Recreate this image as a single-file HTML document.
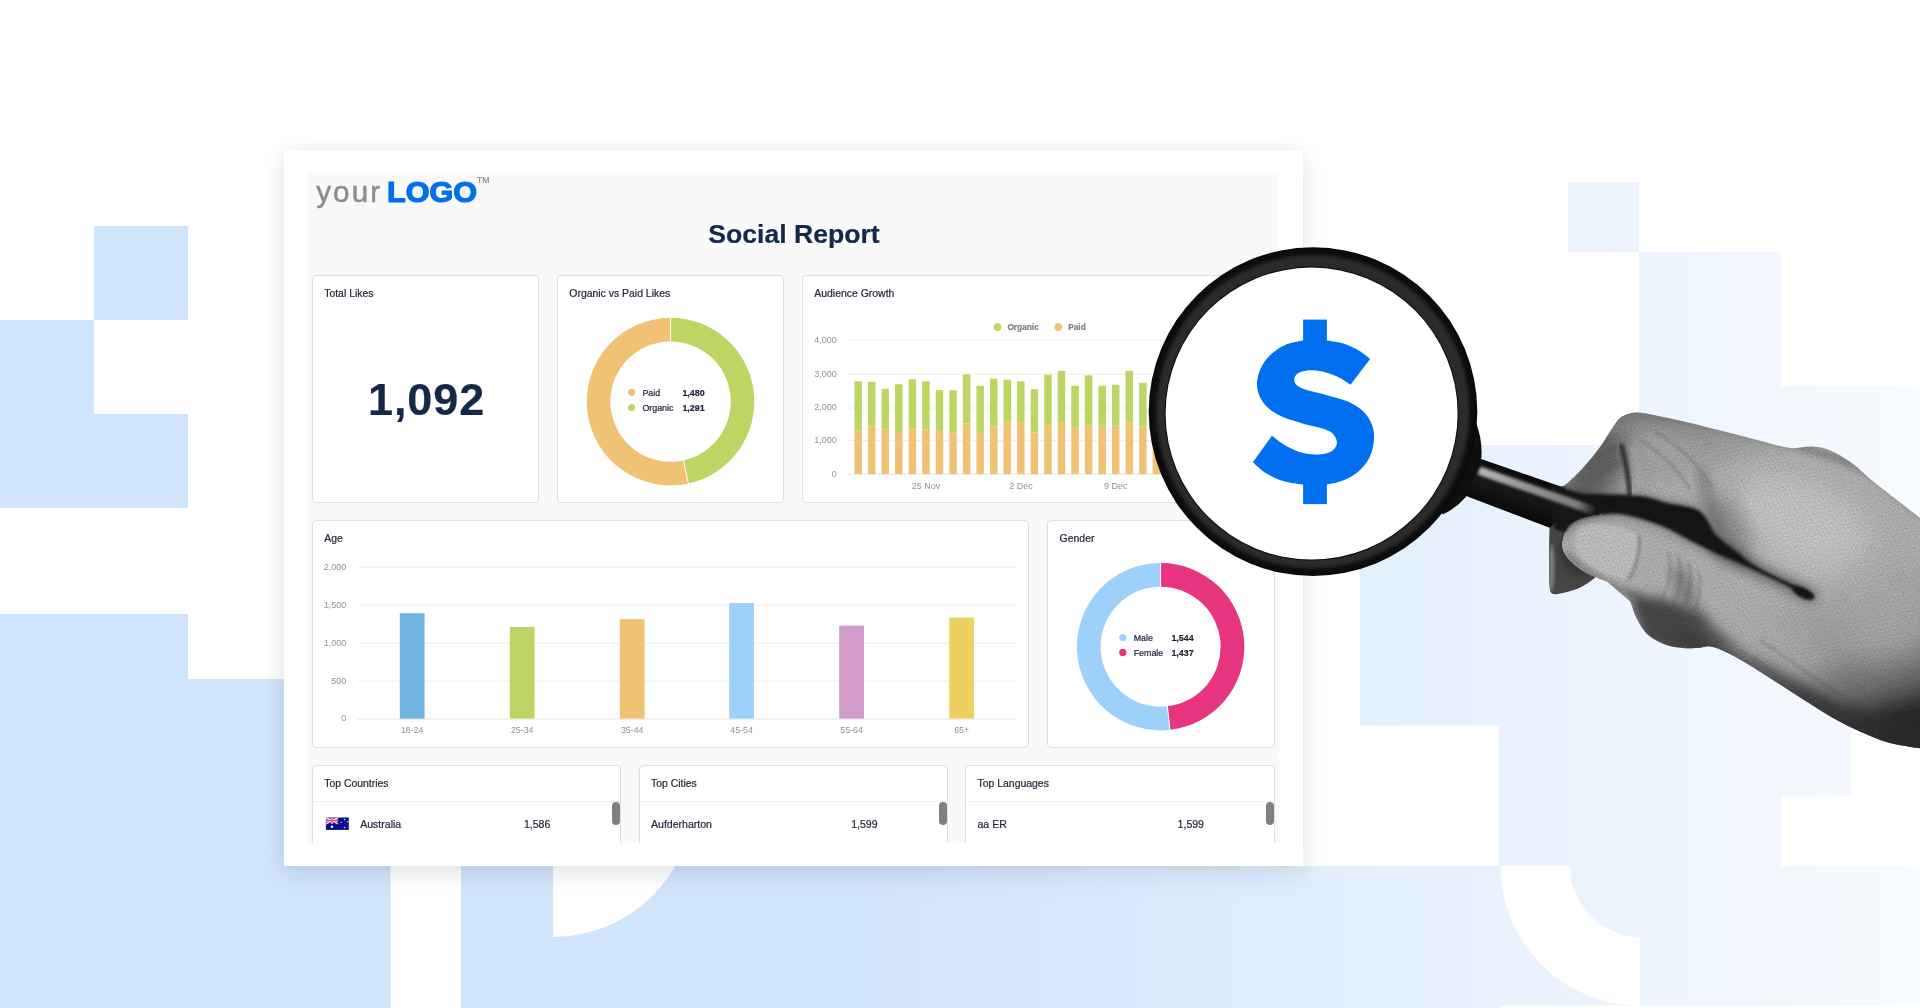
<!DOCTYPE html>
<html lang="en"><head><meta charset="utf-8"><title>Social Report</title>
<style>
html,body{margin:0;padding:0;background:#fff;}
body{width:1920px;height:1008px;position:relative;overflow:hidden;font-family:"Liberation Sans", sans-serif;}
svg{position:absolute;left:0;top:0;overflow:visible;}
.t{position:absolute;line-height:1;white-space:nowrap;font-family:"Liberation Sans", sans-serif;-webkit-text-stroke-width:.22px;}
.card{position:absolute;left:284px;top:150px;width:1019px;height:716px;background:#fff;
  box-shadow:0 7px 26px rgba(20,30,50,.115),0 0 10px rgba(20,30,50,.03);}
.panel{position:absolute;left:308px;top:173px;width:971px;height:670px;background:#f9f9f9;}
.clip{position:absolute;left:0;top:0;width:1920px;height:843px;overflow:hidden;will-change:transform;}
.wd{position:absolute;box-sizing:border-box;background:#fff;border:1px solid #dcdfe3;border-radius:4px;}
.hr{position:absolute;height:1px;background:#f0f1f3;}
.thumb{position:absolute;width:8px;height:23px;border-radius:4px;background:#808080;}
</style></head>
<body>
<svg width="1920" height="1008" viewBox="0 0 1920 1008">
<defs>
<linearGradient id="bgG" gradientUnits="userSpaceOnUse" x1="0" y1="0" x2="1920" y2="0">
<stop offset="0" stop-color="#d0e4fb"/><stop offset="0.44" stop-color="#d0e4fb"/>
<stop offset="0.71" stop-color="#e3effd"/><stop offset="0.82" stop-color="#ebf3fd"/>
<stop offset="0.93" stop-color="#f2f7fe"/><stop offset="1" stop-color="#f8fbff"/>
</linearGradient>
</defs>
<g fill="url(#bgG)">
<rect x="94" y="226" width="94" height="94"/>
<rect x="0" y="320" width="94" height="94"/>
<rect x="0" y="414" width="188" height="94"/>
<rect x="0" y="614" width="188" height="394"/>
<rect x="188" y="679" width="210" height="329"/>
<rect x="188" y="866" width="1732" height="142"/>
<rect x="1568" y="182" width="71" height="70"/>
<rect x="1639" y="252" width="142" height="134"/>
<rect x="1639" y="386" width="281" height="59"/>
<rect x="1360" y="445" width="560" height="421"/>
</g>
<g fill="#fff">
<rect x="390.5" y="860" width="70.5" height="148"/>
<path d="M553,780 L553,937 A141,141 0 0 0 694,796 L694,780 Z"/>
<rect x="1360" y="725.5" width="139" height="140.5"/>
<rect x="1781" y="795.5" width="139" height="70.5"/>
<rect x="1851" y="725.5" width="69" height="70"/>
<path d="M1500.5,866 A139.5,139.5 0 0 0 1640,1005.5 L1640,937 A71,71 0 0 1 1570,866 Z"/>
<rect x="1500" y="1005.5" width="420" height="3"/>
</g>
</svg>
<div class="card"></div>
<div class="panel"></div>
<div class="clip">
<span class="t" style="left:316.20px;top:177.24px;font-size:29.6px;color:#8c8c8c;font-weight:normal;letter-spacing:2.1px;-webkit-text-stroke:0.5px #8c8c8c;">your</span><span class="t" style="left:387.20px;top:177.72px;font-size:28.8px;color:#0070f0;font-weight:bold;-webkit-text-stroke:1.2px #0070f0;transform:scaleX(1.062);transform-origin:0 0;">LOGO</span><span class="t" style="left:477.00px;top:176.22px;font-size:8.6px;color:#8b8b8b;font-weight:normal;">TM</span><span class="t" style="left:594.00px;width:400px;text-align:center;top:221.48px;font-size:26.6px;color:#14284a;font-weight:bold;">Social Report</span><div class="wd" style="left:312px;top:275px;width:227px;height:228px"></div><div class="wd" style="left:557px;top:275px;width:227px;height:228px"></div><div class="wd" style="left:802px;top:275px;width:473px;height:228px"></div><div class="wd" style="left:312px;top:520px;width:717px;height:228px"></div><div class="wd" style="left:1047px;top:520px;width:228px;height:228px"></div><div class="wd" style="left:312px;top:765px;width:309px;height:120px"></div><div class="wd" style="left:639px;top:765px;width:309px;height:120px"></div><div class="wd" style="left:965px;top:765px;width:310px;height:120px"></div>
<span class="t" style="left:324.20px;top:288.75px;font-size:10.45px;color:#1e2738;font-weight:normal;">Total Likes</span><span class="t" style="left:569.30px;top:288.75px;font-size:10.45px;color:#1e2738;font-weight:normal;">Organic vs Paid Likes</span><span class="t" style="left:814.30px;top:288.75px;font-size:10.45px;color:#1e2738;font-weight:normal;">Audience Growth</span><span class="t" style="left:324.20px;top:534.15px;font-size:10.45px;color:#1e2738;font-weight:normal;">Age</span><span class="t" style="left:1059.60px;top:534.15px;font-size:10.45px;color:#1e2738;font-weight:normal;">Gender</span><span class="t" style="left:324.20px;top:779.45px;font-size:10.45px;color:#1e2738;font-weight:normal;">Top Countries</span><span class="t" style="left:651.00px;top:779.45px;font-size:10.45px;color:#1e2738;font-weight:normal;">Top Cities</span><span class="t" style="left:977.50px;top:779.45px;font-size:10.45px;color:#1e2738;font-weight:normal;">Top Languages</span>
<span class="t" style="left:226.60px;width:400px;text-align:center;top:376.81px;font-size:45px;color:#14284a;font-weight:bold;letter-spacing:0.9px;">1,092</span><div class="hr" style="left:313px;top:801px;width:307px"></div><div class="hr" style="left:640px;top:801px;width:307px"></div><div class="hr" style="left:966px;top:801px;width:308px"></div><span class="t" style="left:360.20px;top:818.97px;font-size:10.55px;color:#1e2738;font-weight:normal;">Australia</span><span class="t" style="left:150.30px;width:400px;text-align:right;top:818.97px;font-size:10.55px;color:#1e2738;font-weight:normal;">1,586</span><span class="t" style="left:651.00px;top:818.97px;font-size:10.55px;color:#1e2738;font-weight:normal;">Aufderharton</span><span class="t" style="left:477.60px;width:400px;text-align:right;top:818.97px;font-size:10.55px;color:#1e2738;font-weight:normal;">1,599</span><span class="t" style="left:977.50px;top:818.97px;font-size:10.55px;color:#1e2738;font-weight:normal;">aa ER</span><span class="t" style="left:804.00px;width:400px;text-align:right;top:818.97px;font-size:10.55px;color:#1e2738;font-weight:normal;">1,599</span><div class="thumb" style="left:612px;top:801.5px"></div><div class="thumb" style="left:939px;top:801.5px"></div><div class="thumb" style="left:1266px;top:801.5px"></div>
<svg width="1920" height="1008" viewBox="0 0 1920 1008" font-family='"Liberation Sans", sans-serif'>
<g transform="translate(325.9,817.5)"><rect width="22.9" height="12.4" fill="#0c0c8c"/><path d="M0,0L12.2,6.4M12.2,0L0,6.4" stroke="#fff" stroke-width="1.5"/><path d="M0,0L12.2,6.4M12.2,0L0,6.4" stroke="#ee3f7b" stroke-width=".6"/><path d="M6.1,0V6.4M0,3.2H12.2" stroke="#fff" stroke-width="2.3"/><path d="M6.1,0V6.4M0,3.2H12.2" stroke="#ee3f7b" stroke-width="1.3"/><circle cx="6" cy="9.2" r="1.25" fill="#fff"/><circle cx="18.6" cy="2" r=".75" fill="#fff"/><circle cx="15.3" cy="4.9" r=".6" fill="#fff"/><circle cx="21.9" cy="4.5" r=".65" fill="#fff"/><circle cx="18.6" cy="10" r=".75" fill="#fff"/></g>
<path d="M670.60,317.80 A83.8,83.8 0 0 1 688.42,483.48 L683.40,460.42 A60.2,60.2 0 0 0 670.60,341.40 Z" fill="#bdd663"/><path d="M688.42,483.48 A83.8,83.8 0 1 1 670.60,317.80 L670.60,341.40 A60.2,60.2 0 1 0 683.40,460.42 Z" fill="#f0c274"/><path d="M670.6,317.3V341.90000000000003" stroke="#fff" stroke-width="1"/><path d="M683.29,459.93L688.53,483.97" stroke="#fff" stroke-width="1"/><circle cx="631.6" cy="392.3" r="3.6" fill="#f0c274"/><circle cx="631.6" cy="407.5" r="3.6" fill="#bdd663"/>
<path d="M1160.60,563.00 A83.7,83.7 0 0 1 1170.02,729.87 L1167.35,706.32 A60,60 0 0 0 1160.60,586.70 Z" fill="#e73580"/><path d="M1170.02,729.87 A83.7,83.7 0 1 1 1160.60,563.00 L1160.60,586.70 A60,60 0 1 0 1167.35,706.32 Z" fill="#9dd1fb"/><path d="M1160.6,562.5V587.2" stroke="#fff" stroke-width="1"/><path d="M1167.30,705.82L1170.07,730.37" stroke="#fff" stroke-width="1"/><circle cx="1122.8" cy="637.5" r="3.6" fill="#9dd1fb"/><circle cx="1122.8" cy="652.4" r="3.6" fill="#e73580"/>
<path d="M847.5,340.2H1262" stroke="#eeeeee" stroke-width="1"/><path d="M847.5,374.2H1262" stroke="#eeeeee" stroke-width="1"/><path d="M847.5,408.0H1262" stroke="#eeeeee" stroke-width="1"/><path d="M847.5,440.6H1262" stroke="#eeeeee" stroke-width="1"/><path d="M847.5,474.1H1262" stroke="#e4e4e4" stroke-width="1"/><rect x="854.40" y="381.25" width="7.5" height="49.48" fill="#bdd663"/><rect x="854.40" y="430.73" width="7.5" height="43.37" fill="#f0c274"/><rect x="867.96" y="381.84" width="7.5" height="44.53" fill="#bdd663"/><rect x="867.96" y="426.38" width="7.5" height="47.72" fill="#f0c274"/><rect x="881.51" y="388.77" width="7.5" height="39.98" fill="#bdd663"/><rect x="881.51" y="428.75" width="7.5" height="45.35" fill="#f0c274"/><rect x="895.07" y="384.22" width="7.5" height="48.89" fill="#bdd663"/><rect x="895.07" y="433.10" width="7.5" height="41.00" fill="#f0c274"/><rect x="908.63" y="379.27" width="7.5" height="50.07" fill="#bdd663"/><rect x="908.63" y="429.34" width="7.5" height="44.76" fill="#f0c274"/><rect x="922.18" y="381.25" width="7.5" height="48.09" fill="#bdd663"/><rect x="922.18" y="429.34" width="7.5" height="44.76" fill="#f0c274"/><rect x="935.74" y="390.16" width="7.5" height="40.57" fill="#bdd663"/><rect x="935.74" y="430.73" width="7.5" height="43.37" fill="#f0c274"/><rect x="949.30" y="390.16" width="7.5" height="42.16" fill="#bdd663"/><rect x="949.30" y="432.31" width="7.5" height="41.79" fill="#f0c274"/><rect x="962.86" y="374.32" width="7.5" height="49.08" fill="#bdd663"/><rect x="962.86" y="423.41" width="7.5" height="50.69" fill="#f0c274"/><rect x="976.41" y="385.80" width="7.5" height="47.30" fill="#bdd663"/><rect x="976.41" y="433.10" width="7.5" height="41.00" fill="#f0c274"/><rect x="989.97" y="378.68" width="7.5" height="47.70" fill="#bdd663"/><rect x="989.97" y="426.38" width="7.5" height="47.72" fill="#f0c274"/><rect x="1003.53" y="379.67" width="7.5" height="42.55" fill="#bdd663"/><rect x="1003.53" y="422.22" width="7.5" height="51.88" fill="#f0c274"/><rect x="1017.08" y="381.25" width="7.5" height="40.97" fill="#bdd663"/><rect x="1017.08" y="422.22" width="7.5" height="51.88" fill="#f0c274"/><rect x="1030.64" y="389.17" width="7.5" height="43.15" fill="#bdd663"/><rect x="1030.64" y="432.31" width="7.5" height="41.79" fill="#f0c274"/><rect x="1044.20" y="374.72" width="7.5" height="49.48" fill="#bdd663"/><rect x="1044.20" y="424.20" width="7.5" height="49.90" fill="#f0c274"/><rect x="1057.76" y="370.96" width="7.5" height="51.26" fill="#bdd663"/><rect x="1057.76" y="422.22" width="7.5" height="51.88" fill="#f0c274"/><rect x="1071.31" y="385.80" width="7.5" height="41.96" fill="#bdd663"/><rect x="1071.31" y="427.76" width="7.5" height="46.34" fill="#f0c274"/><rect x="1084.87" y="375.31" width="7.5" height="49.88" fill="#bdd663"/><rect x="1084.87" y="425.19" width="7.5" height="48.91" fill="#f0c274"/><rect x="1098.43" y="385.80" width="7.5" height="39.98" fill="#bdd663"/><rect x="1098.43" y="425.78" width="7.5" height="48.32" fill="#f0c274"/><rect x="1111.98" y="384.81" width="7.5" height="40.38" fill="#bdd663"/><rect x="1111.98" y="425.19" width="7.5" height="48.91" fill="#f0c274"/><rect x="1125.54" y="370.96" width="7.5" height="51.26" fill="#bdd663"/><rect x="1125.54" y="422.22" width="7.5" height="51.88" fill="#f0c274"/><rect x="1139.10" y="382.83" width="7.5" height="43.54" fill="#bdd663"/><rect x="1139.10" y="426.38" width="7.5" height="47.72" fill="#f0c274"/><rect x="1152.65" y="377.29" width="7.5" height="46.51" fill="#bdd663"/><rect x="1152.65" y="423.80" width="7.5" height="50.30" fill="#f0c274"/>
<circle cx="997.5" cy="327.1" r="3.9" fill="#bdd663"/><circle cx="1058.3" cy="327.1" r="3.9" fill="#f0c274"/><path d="M357.5,567.3H1017" stroke="#eeeeee" stroke-width="1"/><path d="M357.5,605.2H1017" stroke="#eeeeee" stroke-width="1"/><path d="M357.5,643.3H1017" stroke="#eeeeee" stroke-width="1"/><path d="M357.5,681.1H1017" stroke="#eeeeee" stroke-width="1"/><path d="M357.5,719.0H1017" stroke="#e4e4e4" stroke-width="1"/><rect x="399.8" y="613.2" width="24.8" height="105.40" fill="#72b5e0"/><rect x="509.8" y="627.0" width="24.8" height="91.60" fill="#bdd663"/><rect x="619.8" y="619.1" width="24.8" height="99.50" fill="#f0c274"/><rect x="729.2" y="603.0" width="24.8" height="115.60" fill="#9dd1fb"/><rect x="839.2" y="625.6" width="24.8" height="93.00" fill="#d19cc9"/><rect x="949.2" y="617.6" width="24.8" height="101.00" fill="#edd060"/>
</svg>
<span class="t" style="left:436.80px;width:400px;text-align:right;top:335.68px;font-size:9px;color:#8f9296;font-weight:normal;-webkit-text-stroke-width:0;">4,000</span><span class="t" style="left:436.80px;width:400px;text-align:right;top:369.68px;font-size:9px;color:#8f9296;font-weight:normal;-webkit-text-stroke-width:0;">3,000</span><span class="t" style="left:436.80px;width:400px;text-align:right;top:403.48px;font-size:9px;color:#8f9296;font-weight:normal;-webkit-text-stroke-width:0;">2,000</span><span class="t" style="left:436.80px;width:400px;text-align:right;top:436.08px;font-size:9px;color:#8f9296;font-weight:normal;-webkit-text-stroke-width:0;">1,000</span><span class="t" style="left:436.80px;width:400px;text-align:right;top:469.58px;font-size:9px;color:#8f9296;font-weight:normal;-webkit-text-stroke-width:0;">0</span><span class="t" style="left:726.00px;width:400px;text-align:center;top:481.88px;font-size:9px;color:#8f9296;font-weight:normal;-webkit-text-stroke-width:0;">25 Nov</span><span class="t" style="left:821.00px;width:400px;text-align:center;top:481.88px;font-size:9px;color:#8f9296;font-weight:normal;-webkit-text-stroke-width:0;">2 Dec</span><span class="t" style="left:915.70px;width:400px;text-align:center;top:481.88px;font-size:9px;color:#8f9296;font-weight:normal;-webkit-text-stroke-width:0;">9 Dec</span><span class="t" style="left:1007.40px;top:323.07px;font-size:8.3px;color:#7d8289;font-weight:bold;">Organic</span><span class="t" style="left:1068.20px;top:323.07px;font-size:8.3px;color:#7d8289;font-weight:bold;">Paid</span><span class="t" style="left:-53.80px;width:400px;text-align:right;top:562.78px;font-size:9px;color:#8f9296;font-weight:normal;-webkit-text-stroke-width:0;">2,000</span><span class="t" style="left:-53.80px;width:400px;text-align:right;top:600.68px;font-size:9px;color:#8f9296;font-weight:normal;-webkit-text-stroke-width:0;">1,500</span><span class="t" style="left:-53.80px;width:400px;text-align:right;top:638.78px;font-size:9px;color:#8f9296;font-weight:normal;-webkit-text-stroke-width:0;">1,000</span><span class="t" style="left:-53.80px;width:400px;text-align:right;top:676.58px;font-size:9px;color:#8f9296;font-weight:normal;-webkit-text-stroke-width:0;">500</span><span class="t" style="left:-53.80px;width:400px;text-align:right;top:714.48px;font-size:9px;color:#8f9296;font-weight:normal;-webkit-text-stroke-width:0;">0</span><span class="t" style="left:212.20px;width:400px;text-align:center;top:725.75px;font-size:8.8px;color:#8f9296;font-weight:normal;-webkit-text-stroke-width:0;">18-24</span><span class="t" style="left:322.20px;width:400px;text-align:center;top:725.75px;font-size:8.8px;color:#8f9296;font-weight:normal;-webkit-text-stroke-width:0;">25-34</span><span class="t" style="left:432.20px;width:400px;text-align:center;top:725.75px;font-size:8.8px;color:#8f9296;font-weight:normal;-webkit-text-stroke-width:0;">35-44</span><span class="t" style="left:541.60px;width:400px;text-align:center;top:725.75px;font-size:8.8px;color:#8f9296;font-weight:normal;-webkit-text-stroke-width:0;">45-54</span><span class="t" style="left:651.60px;width:400px;text-align:center;top:725.75px;font-size:8.8px;color:#8f9296;font-weight:normal;-webkit-text-stroke-width:0;">55-64</span><span class="t" style="left:761.60px;width:400px;text-align:center;top:725.75px;font-size:8.8px;color:#8f9296;font-weight:normal;-webkit-text-stroke-width:0;">65+</span>
<span class="t" style="left:642.40px;top:388.97px;font-size:8.9px;color:#1e2738;font-weight:normal;">Paid</span><span class="t" style="left:642.40px;top:404.17px;font-size:8.9px;color:#1e2738;font-weight:normal;">Organic</span><span class="t" style="left:682.40px;top:388.97px;font-size:8.9px;color:#1d2637;font-weight:bold;">1,480</span><span class="t" style="left:682.40px;top:404.17px;font-size:8.9px;color:#1d2637;font-weight:bold;">1,291</span><span class="t" style="left:1133.70px;top:634.17px;font-size:8.9px;color:#1e2738;font-weight:normal;">Male</span><span class="t" style="left:1133.70px;top:649.07px;font-size:8.9px;color:#1e2738;font-weight:normal;">Female</span><span class="t" style="left:1171.40px;top:634.17px;font-size:8.9px;color:#1d2637;font-weight:bold;">1,544</span><span class="t" style="left:1171.40px;top:649.07px;font-size:8.9px;color:#1d2637;font-weight:bold;">1,437</span>
</div>
<svg width="1920" height="1008" viewBox="0 0 1920 1008">
<defs>
<filter id="b2" x="-20%" y="-20%" width="140%" height="140%"><feGaussianBlur stdDeviation="1.6"/></filter>
<filter id="b3" x="-20%" y="-20%" width="140%" height="140%"><feGaussianBlur stdDeviation="3"/></filter>
<filter id="b6" x="-30%" y="-30%" width="160%" height="160%"><feGaussianBlur stdDeviation="6"/></filter>
<filter id="b10" x="-40%" y="-40%" width="180%" height="180%"><feGaussianBlur stdDeviation="10"/></filter>
<filter id="b16" x="-50%" y="-50%" width="200%" height="200%"><feGaussianBlur stdDeviation="16"/></filter>
<filter id="grain" x="0" y="0" width="100%" height="100%">
  <feTurbulence type="fractalNoise" baseFrequency="0.85" numOctaves="2" seed="4" result="n"/>
  <feColorMatrix in="n" type="matrix" values="0 0 0 0 0  0 0 0 0 0  0 0 0 0 0  0.7 0.7 0 0 -0.5"/>
</filter>
<pattern id="skin" width="7" height="5" patternUnits="userSpaceOnUse" patternTransform="rotate(24)">
  <path d="M0,0 L7,5 M7,0 L0,5" stroke="#000" stroke-width=".55" opacity=".55"/>
</pattern>
<clipPath id="handClip"><path d="M1561.0,486.5 C1562.0,486.0 1563.3,486.6 1567.0,483.5 C1570.7,480.4 1577.4,474.2 1583.0,468.0 C1588.6,461.8 1595.5,453.3 1600.5,446.5 C1605.5,439.7 1609.4,432.0 1613.0,427.0 C1616.6,422.0 1618.1,418.9 1622.0,416.5 C1625.9,414.1 1630.5,412.6 1636.5,412.5 C1642.5,412.4 1649.1,414.2 1658.0,416.0 C1666.9,417.8 1678.7,420.3 1690.0,423.0 C1701.3,425.7 1714.2,429.0 1726.0,432.0 C1737.8,435.0 1750.3,438.3 1761.0,441.0 C1771.7,443.7 1781.7,447.1 1790.0,448.0 C1798.3,448.9 1804.5,446.2 1811.0,446.5 C1817.5,446.8 1822.3,447.3 1829.0,450.0 C1835.7,452.7 1843.8,457.4 1851.0,462.5 C1858.2,467.6 1864.3,474.2 1872.0,480.5 C1879.7,486.8 1888.2,493.1 1897.0,500.0 C1905.8,506.9 1920.3,518.3 1925.0,522.0 L1925.0,749.0 C1919.2,748.0 1900.7,745.8 1890.0,743.0 C1879.3,740.2 1870.5,736.2 1861.0,732.0 C1851.5,727.8 1842.5,723.3 1833.0,718.0 C1823.5,712.7 1813.5,706.0 1804.0,700.0 C1794.5,694.0 1784.8,687.7 1776.0,682.0 C1767.2,676.3 1758.8,670.8 1751.0,666.0 C1743.2,661.2 1735.7,656.8 1729.0,653.5 C1722.3,650.2 1716.3,647.4 1711.0,646.5 C1705.7,645.6 1701.7,647.8 1697.0,648.0 C1692.3,648.2 1688.3,648.6 1683.0,648.0 C1677.7,647.4 1671.0,646.8 1665.0,644.5 C1659.0,642.2 1651.8,638.4 1647.0,634.0 C1642.2,629.6 1639.2,623.1 1636.5,618.0 C1633.8,612.9 1632.8,608.2 1631.0,603.5 C1629.2,598.8 1626.4,591.8 1625.5,589.5 L1625.5,589.5 C1622.6,588.2 1614.5,584.8 1608.0,582.0 C1601.5,579.2 1592.8,576.5 1586.5,573.0 C1580.2,569.5 1574.3,564.7 1570.5,561.0 C1566.7,557.3 1564.9,554.0 1563.5,551.0 C1562.1,548.0 1562.5,544.3 1562.3,543.0 L1562.3,543.0 C1562.8,541.2 1563.7,535.5 1565.0,532.5 C1566.3,529.5 1568.0,527.0 1570.0,525.0 C1572.0,523.0 1574.2,521.5 1577.0,520.2 C1579.8,518.9 1583.0,517.9 1587.0,517.0 C1591.0,516.1 1598.7,515.0 1601.0,514.6 L1590,505 Z"/><path d="M1562.3,543.0 C1562.8,541.2 1563.7,535.5 1565.0,532.5 C1566.3,529.5 1568.0,527.0 1570.0,525.0 C1572.0,523.0 1574.2,521.5 1577.0,520.2 C1579.8,518.9 1583.0,517.9 1587.0,517.0 C1591.0,516.1 1595.5,515.1 1601.0,514.6 C1606.5,514.1 1612.9,513.2 1620.0,514.0 C1627.1,514.8 1635.6,517.1 1643.5,519.5 C1651.4,521.9 1659.4,524.7 1667.3,528.3 C1675.2,531.9 1683.0,536.8 1691.0,541.0 C1699.0,545.2 1707.0,549.5 1715.0,553.7 C1723.0,557.9 1730.8,562.3 1738.7,566.3 C1746.6,570.3 1754.6,573.8 1762.5,577.5 C1770.4,581.2 1779.0,585.0 1786.3,588.6 C1793.5,592.2 1802.7,597.3 1806.0,599.0 L1830,640 L1700,640 L1640,610 L1562.3,543.0 C1562.5,544.3 1562.1,548.0 1563.5,551.0 C1564.9,554.0 1566.7,557.3 1570.5,561.0 C1574.3,564.7 1580.2,569.5 1586.5,573.0 C1592.8,576.5 1601.5,579.2 1608.0,582.0 C1614.5,584.8 1622.6,588.2 1625.5,589.5 Z"/></clipPath>
<clipPath id="hhClip"><path d="M1561.0,486.5 C1562.0,486.0 1563.3,486.6 1567.0,483.5 C1570.7,480.4 1577.4,474.2 1583.0,468.0 C1588.6,461.8 1595.5,453.3 1600.5,446.5 C1605.5,439.7 1609.4,432.0 1613.0,427.0 C1616.6,422.0 1618.1,418.9 1622.0,416.5 C1625.9,414.1 1630.5,412.6 1636.5,412.5 C1642.5,412.4 1649.1,414.2 1658.0,416.0 C1666.9,417.8 1678.7,420.3 1690.0,423.0 C1701.3,425.7 1714.2,429.0 1726.0,432.0 C1737.8,435.0 1750.3,438.3 1761.0,441.0 C1771.7,443.7 1781.7,447.1 1790.0,448.0 C1798.3,448.9 1804.5,446.2 1811.0,446.5 C1817.5,446.8 1822.3,447.3 1829.0,450.0 C1835.7,452.7 1843.8,457.4 1851.0,462.5 C1858.2,467.6 1864.3,474.2 1872.0,480.5 C1879.7,486.8 1888.2,493.1 1897.0,500.0 C1905.8,506.9 1920.3,518.3 1925.0,522.0 L1925.0,749.0 C1919.2,748.0 1900.7,745.8 1890.0,743.0 C1879.3,740.2 1870.5,736.2 1861.0,732.0 C1851.5,727.8 1842.5,723.3 1833.0,718.0 C1823.5,712.7 1813.5,706.0 1804.0,700.0 C1794.5,694.0 1784.8,687.7 1776.0,682.0 C1767.2,676.3 1758.8,670.8 1751.0,666.0 C1743.2,661.2 1735.7,656.8 1729.0,653.5 C1722.3,650.2 1716.3,647.4 1711.0,646.5 C1705.7,645.6 1701.7,647.8 1697.0,648.0 C1692.3,648.2 1688.3,648.6 1683.0,648.0 C1677.7,647.4 1671.0,646.8 1665.0,644.5 C1659.0,642.2 1651.8,638.4 1647.0,634.0 C1642.2,629.6 1639.2,623.1 1636.5,618.0 C1633.8,612.9 1632.8,608.2 1631.0,603.5 C1629.2,598.8 1626.4,591.8 1625.5,589.5 L1625.5,589.5 C1622.6,588.2 1614.5,584.8 1608.0,582.0 C1601.5,579.2 1592.8,576.5 1586.5,573.0 C1580.2,569.5 1574.3,564.7 1570.5,561.0 C1566.7,557.3 1564.9,554.0 1563.5,551.0 C1562.1,548.0 1562.5,544.3 1562.3,543.0 L1562.3,543.0 C1562.8,541.2 1563.7,535.5 1565.0,532.5 C1566.3,529.5 1568.0,527.0 1570.0,525.0 C1572.0,523.0 1574.2,521.5 1577.0,520.2 C1579.8,518.9 1583.0,517.9 1587.0,517.0 C1591.0,516.1 1598.7,515.0 1601.0,514.6 L1590,505 Z"/><path d="M1562.3,543.0 C1562.8,541.2 1563.7,535.5 1565.0,532.5 C1566.3,529.5 1568.0,527.0 1570.0,525.0 C1572.0,523.0 1574.2,521.5 1577.0,520.2 C1579.8,518.9 1583.0,517.9 1587.0,517.0 C1591.0,516.1 1595.5,515.1 1601.0,514.6 C1606.5,514.1 1612.9,513.2 1620.0,514.0 C1627.1,514.8 1635.6,517.1 1643.5,519.5 C1651.4,521.9 1659.4,524.7 1667.3,528.3 C1675.2,531.9 1683.0,536.8 1691.0,541.0 C1699.0,545.2 1707.0,549.5 1715.0,553.7 C1723.0,557.9 1730.8,562.3 1738.7,566.3 C1746.6,570.3 1754.6,573.8 1762.5,577.5 C1770.4,581.2 1779.0,585.0 1786.3,588.6 C1793.5,592.2 1802.7,597.3 1806.0,599.0 L1830,640 L1700,640 L1640,610 L1562.3,543.0 C1562.5,544.3 1562.1,548.0 1563.5,551.0 C1564.9,554.0 1566.7,557.3 1570.5,561.0 C1574.3,564.7 1580.2,569.5 1586.5,573.0 C1592.8,576.5 1601.5,579.2 1608.0,582.0 C1614.5,584.8 1622.6,588.2 1625.5,589.5 Z"/><path d="M1468,454.4 L1600,500.2 L1600,547 L1453,491 Z"/></clipPath>
<clipPath id="baseClip"><path d="M1561.0,486.5 C1562.0,486.0 1563.3,486.6 1567.0,483.5 C1570.7,480.4 1577.4,474.2 1583.0,468.0 C1588.6,461.8 1595.5,453.3 1600.5,446.5 C1605.5,439.7 1609.4,432.0 1613.0,427.0 C1616.6,422.0 1618.1,418.9 1622.0,416.5 C1625.9,414.1 1630.5,412.6 1636.5,412.5 C1642.5,412.4 1649.1,414.2 1658.0,416.0 C1666.9,417.8 1678.7,420.3 1690.0,423.0 C1701.3,425.7 1714.2,429.0 1726.0,432.0 C1737.8,435.0 1750.3,438.3 1761.0,441.0 C1771.7,443.7 1781.7,447.1 1790.0,448.0 C1798.3,448.9 1804.5,446.2 1811.0,446.5 C1817.5,446.8 1822.3,447.3 1829.0,450.0 C1835.7,452.7 1843.8,457.4 1851.0,462.5 C1858.2,467.6 1864.3,474.2 1872.0,480.5 C1879.7,486.8 1888.2,493.1 1897.0,500.0 C1905.8,506.9 1920.3,518.3 1925.0,522.0 L1925.0,749.0 C1919.2,748.0 1900.7,745.8 1890.0,743.0 C1879.3,740.2 1870.5,736.2 1861.0,732.0 C1851.5,727.8 1842.5,723.3 1833.0,718.0 C1823.5,712.7 1813.5,706.0 1804.0,700.0 C1794.5,694.0 1784.8,687.7 1776.0,682.0 C1767.2,676.3 1758.8,670.8 1751.0,666.0 C1743.2,661.2 1735.7,656.8 1729.0,653.5 C1722.3,650.2 1716.3,647.4 1711.0,646.5 C1705.7,645.6 1701.7,647.8 1697.0,648.0 C1692.3,648.2 1688.3,648.6 1683.0,648.0 C1677.7,647.4 1671.0,646.8 1665.0,644.5 C1659.0,642.2 1651.8,638.4 1647.0,634.0 C1642.2,629.6 1639.2,623.1 1636.5,618.0 C1633.8,612.9 1632.8,608.2 1631.0,603.5 C1629.2,598.8 1626.4,591.8 1625.5,589.5 L1625.5,589.5 C1622.6,588.2 1614.5,584.8 1608.0,582.0 C1601.5,579.2 1592.8,576.5 1586.5,573.0 C1580.2,569.5 1574.3,564.7 1570.5,561.0 C1566.7,557.3 1564.9,554.0 1563.5,551.0 C1562.1,548.0 1562.5,544.3 1562.3,543.0 L1562.3,543.0 C1562.8,541.2 1563.7,535.5 1565.0,532.5 C1566.3,529.5 1568.0,527.0 1570.0,525.0 C1572.0,523.0 1574.2,521.5 1577.0,520.2 C1579.8,518.9 1583.0,517.9 1587.0,517.0 C1591.0,516.1 1598.7,515.0 1601.0,514.6 L1590,505 Z"/></clipPath>
<clipPath id="thumbClip"><path d="M1562.3,543.0 C1562.8,541.2 1563.7,535.5 1565.0,532.5 C1566.3,529.5 1568.0,527.0 1570.0,525.0 C1572.0,523.0 1574.2,521.5 1577.0,520.2 C1579.8,518.9 1583.0,517.9 1587.0,517.0 C1591.0,516.1 1595.5,515.1 1601.0,514.6 C1606.5,514.1 1612.9,513.2 1620.0,514.0 C1627.1,514.8 1635.6,517.1 1643.5,519.5 C1651.4,521.9 1659.4,524.7 1667.3,528.3 C1675.2,531.9 1683.0,536.8 1691.0,541.0 C1699.0,545.2 1707.0,549.5 1715.0,553.7 C1723.0,557.9 1730.8,562.3 1738.7,566.3 C1746.6,570.3 1754.6,573.8 1762.5,577.5 C1770.4,581.2 1779.0,585.0 1786.3,588.6 C1793.5,592.2 1802.7,597.3 1806.0,599.0 L1830,640 L1700,640 L1640,610 L1562.3,543.0 C1562.5,544.3 1562.1,548.0 1563.5,551.0 C1564.9,554.0 1566.7,557.3 1570.5,561.0 C1574.3,564.7 1580.2,569.5 1586.5,573.0 C1592.8,576.5 1601.5,579.2 1608.0,582.0 C1614.5,584.8 1622.6,588.2 1625.5,589.5 Z"/></clipPath>
<clipPath id="ftipClip"><path d="M1549.5,528.0 C1549.4,533.3 1549.0,550.5 1549.0,560.0 C1549.0,569.5 1549.0,579.4 1549.5,585.0 C1550.0,590.6 1550.1,592.1 1552.0,593.5 C1553.9,594.9 1556.5,594.2 1561.0,593.3 C1565.5,592.4 1573.5,590.5 1579.0,588.0 C1584.5,585.5 1590.2,581.5 1594.0,578.5 C1597.8,575.5 1600.7,571.4 1602.0,570.0 L1610,540 L1560,518 Z"/></clipPath>
<linearGradient id="handG" gradientUnits="userSpaceOnUse" x1="1700" y1="415" x2="1795" y2="745">
 <stop offset="0" stop-color="#909090"/><stop offset="0.18" stop-color="#b6b6b6"/>
 <stop offset="0.55" stop-color="#b8b8b8"/><stop offset="0.78" stop-color="#a0a0a0"/>
 <stop offset="0.91" stop-color="#6e6e6e"/><stop offset="1" stop-color="#303030"/>
</linearGradient>
<linearGradient id="handleG" gradientUnits="userSpaceOnUse" x1="1520" y1="472.5" x2="1504.6" y2="514.8">
 <stop offset="0" stop-color="#0a0a0a"/><stop offset="0.5" stop-color="#171717"/><stop offset="1" stop-color="#060606"/>
</linearGradient>
<linearGradient id="streakG" gradientUnits="userSpaceOnUse" x1="1479" y1="470" x2="1596" y2="511">
 <stop offset="0" stop-color="#b4b4b4"/><stop offset="0.45" stop-color="#929292"/><stop offset="0.85" stop-color="#7c7c7c"/><stop offset="1" stop-color="#7c7c7c" stop-opacity="0"/>
</linearGradient>
<radialGradient id="ringG" gradientUnits="userSpaceOnUse" cx="1313" cy="411.6" r="164.3">
 <stop offset="0.86" stop-color="#272727"/><stop offset="0.93" stop-color="#2c2c2c"/>
 <stop offset="0.95" stop-color="#202020"/><stop offset="0.962" stop-color="#101010"/><stop offset="1" stop-color="#080808"/>
</radialGradient>
</defs>

<!-- handle -->
<path d="M1468,454.4 L1600,500.2 L1600,547 L1453,491 Z" fill="url(#handleG)"/>
<!-- index finger tip below handle -->
<path d="M1549.5,528.0 C1549.4,533.3 1549.0,550.5 1549.0,560.0 C1549.0,569.5 1549.0,579.4 1549.5,585.0 C1550.0,590.6 1550.1,592.1 1552.0,593.5 C1553.9,594.9 1556.5,594.2 1561.0,593.3 C1565.5,592.4 1573.5,590.5 1579.0,588.0 C1584.5,585.5 1590.2,581.5 1594.0,578.5 C1597.8,575.5 1600.7,571.4 1602.0,570.0 L1610,540 L1560,518 Z" fill="#464646"/>
<g clip-path="url(#ftipClip)">
  <ellipse cx="1582" cy="552" rx="22" ry="24" fill="#303030" filter="url(#b6)"/>
  <ellipse cx="1551.5" cy="568" rx="3" ry="24" fill="#7c7c7c" filter="url(#b2)"/>
</g>

<!-- hand -->
<path d="M1561.0,486.5 C1562.0,486.0 1563.3,486.6 1567.0,483.5 C1570.7,480.4 1577.4,474.2 1583.0,468.0 C1588.6,461.8 1595.5,453.3 1600.5,446.5 C1605.5,439.7 1609.4,432.0 1613.0,427.0 C1616.6,422.0 1618.1,418.9 1622.0,416.5 C1625.9,414.1 1630.5,412.6 1636.5,412.5 C1642.5,412.4 1649.1,414.2 1658.0,416.0 C1666.9,417.8 1678.7,420.3 1690.0,423.0 C1701.3,425.7 1714.2,429.0 1726.0,432.0 C1737.8,435.0 1750.3,438.3 1761.0,441.0 C1771.7,443.7 1781.7,447.1 1790.0,448.0 C1798.3,448.9 1804.5,446.2 1811.0,446.5 C1817.5,446.8 1822.3,447.3 1829.0,450.0 C1835.7,452.7 1843.8,457.4 1851.0,462.5 C1858.2,467.6 1864.3,474.2 1872.0,480.5 C1879.7,486.8 1888.2,493.1 1897.0,500.0 C1905.8,506.9 1920.3,518.3 1925.0,522.0 L1925.0,749.0 C1919.2,748.0 1900.7,745.8 1890.0,743.0 C1879.3,740.2 1870.5,736.2 1861.0,732.0 C1851.5,727.8 1842.5,723.3 1833.0,718.0 C1823.5,712.7 1813.5,706.0 1804.0,700.0 C1794.5,694.0 1784.8,687.7 1776.0,682.0 C1767.2,676.3 1758.8,670.8 1751.0,666.0 C1743.2,661.2 1735.7,656.8 1729.0,653.5 C1722.3,650.2 1716.3,647.4 1711.0,646.5 C1705.7,645.6 1701.7,647.8 1697.0,648.0 C1692.3,648.2 1688.3,648.6 1683.0,648.0 C1677.7,647.4 1671.0,646.8 1665.0,644.5 C1659.0,642.2 1651.8,638.4 1647.0,634.0 C1642.2,629.6 1639.2,623.1 1636.5,618.0 C1633.8,612.9 1632.8,608.2 1631.0,603.5 C1629.2,598.8 1626.4,591.8 1625.5,589.5 L1625.5,589.5 C1622.6,588.2 1614.5,584.8 1608.0,582.0 C1601.5,579.2 1592.8,576.5 1586.5,573.0 C1580.2,569.5 1574.3,564.7 1570.5,561.0 C1566.7,557.3 1564.9,554.0 1563.5,551.0 C1562.1,548.0 1562.5,544.3 1562.3,543.0 L1562.3,543.0 C1562.8,541.2 1563.7,535.5 1565.0,532.5 C1566.3,529.5 1568.0,527.0 1570.0,525.0 C1572.0,523.0 1574.2,521.5 1577.0,520.2 C1579.8,518.9 1583.0,517.9 1587.0,517.0 C1591.0,516.1 1598.7,515.0 1601.0,514.6 L1590,505 Z" fill="url(#handG)"/>
<path d="M1562.3,543.0 C1562.8,541.2 1563.7,535.5 1565.0,532.5 C1566.3,529.5 1568.0,527.0 1570.0,525.0 C1572.0,523.0 1574.2,521.5 1577.0,520.2 C1579.8,518.9 1583.0,517.9 1587.0,517.0 C1591.0,516.1 1595.5,515.1 1601.0,514.6 C1606.5,514.1 1612.9,513.2 1620.0,514.0 C1627.1,514.8 1635.6,517.1 1643.5,519.5 C1651.4,521.9 1659.4,524.7 1667.3,528.3 C1675.2,531.9 1683.0,536.8 1691.0,541.0 C1699.0,545.2 1707.0,549.5 1715.0,553.7 C1723.0,557.9 1730.8,562.3 1738.7,566.3 C1746.6,570.3 1754.6,573.8 1762.5,577.5 C1770.4,581.2 1779.0,585.0 1786.3,588.6 C1793.5,592.2 1802.7,597.3 1806.0,599.0 L1830,640 L1700,640 L1640,610 L1562.3,543.0 C1562.5,544.3 1562.1,548.0 1563.5,551.0 C1564.9,554.0 1566.7,557.3 1570.5,561.0 C1574.3,564.7 1580.2,569.5 1586.5,573.0 C1592.8,576.5 1601.5,579.2 1608.0,582.0 C1614.5,584.8 1622.6,588.2 1625.5,589.5 Z" fill="url(#handG)"/>
<g clip-path="url(#handClip)">
  <ellipse cx="1805" cy="525" rx="78" ry="42" fill="#d0d0d0" opacity=".9" filter="url(#b16)" transform="rotate(28 1805 525)"/>
  <ellipse cx="1885" cy="600" rx="46" ry="56" fill="#b4b4b4" opacity=".7" filter="url(#b16)"/>
  <ellipse cx="1596" cy="470" rx="22" ry="44" fill="#606060" opacity=".95" filter="url(#b10)" transform="rotate(38 1596 470)"/>
  <ellipse cx="1662" cy="450" rx="34" ry="18" fill="#b0b0b0" opacity=".85" filter="url(#b10)" transform="rotate(15 1662 450)"/>
  <path d="M1613,424 C1640,405 1700,420 1790,444 S1880,480 1925,517" fill="none" stroke="#7a7a7a" stroke-width="7" filter="url(#b3)" opacity=".8"/>
  <path d="M1621,444 C1626,462 1629,482 1630,497" fill="none" stroke="#2c2c2c" stroke-width="5" filter="url(#b2)" opacity=".85"/>
  <path d="M1632,446 C1638,464 1640,480 1641,496" fill="none" stroke="#b4b4b4" stroke-width="7" filter="url(#b3)" opacity=".7"/>
  <path d="M1700,470 C1705,490 1712,510 1722,535" fill="none" stroke="#6a6a6a" stroke-width="8" filter="url(#b6)" opacity=".7"/>
  <ellipse cx="1728" cy="528" rx="16" ry="34" fill="#6a6a6a" opacity=".55" filter="url(#b10)" transform="rotate(-28 1728 528)"/>
  <path d="M1640,644 L1700,654 L1760,686 L1830,726 L1925,754 L1925,730 L1840,704 L1770,664 L1700,632 Z" fill="#363636" filter="url(#b6)" opacity=".8"/>
  <path d="M1628,594 L1644,642 L1700,654 L1740,650 L1700,610 L1660,598 Z" fill="#404040" filter="url(#b6)" opacity=".92"/>
  <ellipse cx="1925" cy="735" rx="40" ry="22" fill="#2c2c2c" filter="url(#b10)" opacity=".85"/>
  <!-- thumb shading -->
  <ellipse cx="1650" cy="556" rx="60" ry="15" fill="#b8b8b8" opacity=".85" filter="url(#b10)" transform="rotate(20 1650 556)"/>
  <ellipse cx="1765" cy="636" rx="62" ry="24" fill="#b8b8b8" opacity=".75" filter="url(#b16)" transform="rotate(30 1765 636)"/>
  <path d="M1578,527 C1595,520 1620,524 1638,536 C1640,552 1634,570 1627,579 C1610,578 1590,568 1578,556 C1574,546 1574,534 1578,527 Z" fill="#c8c8c8" filter="url(#b2)" opacity=".95"/>
  <path d="M1639,536 C1641,552 1635,570 1628,580" fill="none" stroke="#858585" stroke-width="2.5" filter="url(#b2)" opacity=".9"/>
  <ellipse cx="1684" cy="588" rx="9" ry="24" fill="#787878" filter="url(#b6)" opacity=".8" transform="rotate(-22 1684 588)"/>
  <path d="M1566,553 C1580,572 1610,587 1640,597" fill="none" stroke="#5c5c5c" stroke-width="5" filter="url(#b3)" opacity=".7"/>
  <!-- dark band (handle in shadow) -->
  <path d="M1561.0,486.5 C1564.2,487.6 1571.5,491.7 1580.0,493.0 C1588.5,494.3 1601.1,493.9 1611.7,494.5 C1622.3,495.1 1634.2,495.1 1643.5,496.5 C1652.8,497.9 1659.4,501.1 1667.3,503.0 C1675.2,504.9 1685.2,505.9 1691.0,507.6 C1696.8,509.4 1698.8,510.6 1702.0,513.5 C1705.2,516.4 1707.7,521.4 1710.0,525.0 C1712.3,528.6 1711.2,530.2 1716.0,535.0 C1720.8,539.8 1732.3,548.4 1738.7,553.5 C1745.1,558.6 1748.0,561.4 1754.6,565.5 C1761.2,569.6 1770.5,574.2 1778.4,578.0 C1786.3,581.8 1796.3,585.8 1802.2,588.5 C1808.1,591.2 1812.0,593.5 1814.0,594.5 L1814.0,599.0 C1812.7,598.7 1810.6,599.2 1806.0,597.0 C1801.4,594.8 1793.5,589.3 1786.3,585.5 C1779.0,581.7 1770.4,577.8 1762.5,574.0 C1754.6,570.2 1746.6,566.5 1738.7,563.0 C1730.8,559.5 1723.0,556.4 1715.0,552.7 C1707.0,549.0 1699.0,545.1 1691.0,541.0 C1683.0,536.9 1675.2,531.9 1667.3,528.3 C1659.4,524.7 1651.4,521.9 1643.5,519.5 C1635.6,517.1 1627.1,514.8 1620.0,514.0 C1612.9,513.2 1606.5,514.1 1601.0,514.6 C1595.5,515.1 1591.0,516.1 1587.0,517.0 C1583.0,517.9 1579.8,518.9 1577.0,520.2 C1574.2,521.5 1572.0,523.0 1570.0,525.0 C1568.0,527.0 1565.8,531.2 1565.0,532.5 L1554,529.5 L1551,483.2 Z" fill="#4a4a4a" filter="url(#b6)" opacity=".75"/>
  <path d="M1712.0,536.0 C1716.5,538.3 1731.6,545.6 1738.7,550.0 C1745.8,554.4 1748.0,558.2 1754.6,562.5 C1761.2,566.8 1770.5,571.6 1778.4,575.5 C1786.3,579.4 1796.3,583.1 1802.2,586.0 C1808.1,588.9 1812.0,591.8 1814.0,593.0 L1814.0,600.5 C1809.4,598.5 1794.9,592.3 1786.3,588.5 C1777.7,584.7 1770.4,581.2 1762.5,577.5 C1754.6,573.8 1747.1,570.1 1738.7,566.0 C1730.3,561.9 1716.5,555.2 1712.0,553.0 Z" fill="#505050" filter="url(#b6)" opacity=".8"/>
  <ellipse cx="1803" cy="593" rx="11" ry="4.5" fill="#101010" filter="url(#b2)" transform="rotate(27 1803 593)"/>
</g>
<g clip-path="url(#hhClip)"><path d="M1561.0,486.5 C1564.2,487.6 1571.5,491.7 1580.0,493.0 C1588.5,494.3 1601.1,493.9 1611.7,494.5 C1622.3,495.1 1634.2,495.1 1643.5,496.5 C1652.8,497.9 1659.4,501.1 1667.3,503.0 C1675.2,504.9 1685.2,505.9 1691.0,507.6 C1696.8,509.4 1698.8,510.6 1702.0,513.5 C1705.2,516.4 1707.7,521.4 1710.0,525.0 C1712.3,528.6 1711.2,530.2 1716.0,535.0 C1720.8,539.8 1732.3,548.4 1738.7,553.5 C1745.1,558.6 1748.0,561.4 1754.6,565.5 C1761.2,569.6 1770.5,574.2 1778.4,578.0 C1786.3,581.8 1796.3,585.8 1802.2,588.5 C1808.1,591.2 1812.0,593.5 1814.0,594.5 L1814.0,599.0 C1812.7,598.7 1810.6,599.2 1806.0,597.0 C1801.4,594.8 1793.5,589.3 1786.3,585.5 C1779.0,581.7 1770.4,577.8 1762.5,574.0 C1754.6,570.2 1746.6,566.5 1738.7,563.0 C1730.8,559.5 1723.0,556.4 1715.0,552.7 C1707.0,549.0 1699.0,545.1 1691.0,541.0 C1683.0,536.9 1675.2,531.9 1667.3,528.3 C1659.4,524.7 1651.4,521.9 1643.5,519.5 C1635.6,517.1 1627.1,514.8 1620.0,514.0 C1612.9,513.2 1606.5,514.1 1601.0,514.6 C1595.5,515.1 1591.0,516.1 1587.0,517.0 C1583.0,517.9 1579.8,518.9 1577.0,520.2 C1574.2,521.5 1572.0,523.0 1570.0,525.0 C1568.0,527.0 1565.8,531.2 1565.0,532.5 L1554,529.5 L1551,483.2 Z" fill="#131313" filter="url(#b2)"/></g>
<path d="M1479,470.6 L1594,510.8" stroke="url(#streakG)" stroke-width="8.5" filter="url(#b2)"/>
<!-- ring collar -->
<path d="M1476.5,424 Q1483,442 1481.2,459.6 L1465.6,497.2 Q1456,508.5 1442.5,514.5 L1436,500 L1468,428 Z" fill="#0e0e0e"/>

<!-- lens -->
<circle cx="1313" cy="411.6" r="164.3" fill="url(#ringG)"/>
<circle cx="1311.6" cy="413.6" r="147" fill="#0c0c0c"/>
<circle cx="1311.6" cy="413.6" r="146" fill="#fff"/>

<!-- dollar -->
<rect x="1303.1" y="319.6" width="23.8" height="28" fill="#0070f0"/>
<rect x="1303.1" y="476.1" width="23.8" height="28" fill="#0070f0"/>
<path d="M1370.1,358.9 C1368.2,357.5 1363.2,353.2 1358.8,350.6 C1354.3,348.1 1348.8,345.4 1343.5,343.6 C1338.2,341.9 1331.6,341.1 1326.9,340.4 C1322.2,339.7 1319.1,339.5 1315.1,339.5 C1311.2,339.5 1307.8,339.6 1303.1,340.4 C1298.4,341.2 1291.8,342.2 1286.7,344.3 C1281.7,346.4 1276.7,349.5 1272.6,353.0 C1268.4,356.6 1264.7,360.7 1262.1,365.5 C1259.5,370.3 1257.5,376.7 1257.1,381.8 C1256.6,386.9 1257.6,391.7 1259.5,396.0 C1261.3,400.4 1264.4,404.6 1268.2,408.0 C1272.0,411.5 1276.4,414.1 1282.4,416.8 C1288.4,419.4 1297.7,422.0 1304.2,424.0 C1310.8,425.9 1317.0,426.8 1321.7,428.3 C1326.3,429.9 1329.6,430.9 1332.1,433.1 C1334.7,435.4 1336.6,439.1 1336.9,441.9 C1337.2,444.6 1335.7,447.6 1333.9,449.5 C1332.1,451.4 1329.2,452.6 1326.0,453.4 C1322.9,454.3 1319.1,454.6 1315.1,454.5 C1311.1,454.4 1306.7,454.2 1302.0,452.8 C1297.3,451.4 1291.8,449.1 1286.7,446.2 C1281.7,443.4 1274.4,437.5 1271.9,435.7 L1252.9,462.2 C1254.9,463.9 1260.0,469.3 1264.9,472.4 C1269.8,475.5 1276.0,478.7 1282.4,480.7 C1288.7,482.7 1297.7,483.8 1303.1,484.6 C1308.6,485.4 1311.2,485.5 1315.1,485.5 C1319.1,485.5 1322.2,485.5 1326.9,484.6 C1331.6,483.8 1338.2,482.5 1343.5,480.3 C1348.8,478.1 1354.4,475.2 1358.8,471.3 C1363.1,467.5 1367.1,462.4 1369.7,457.1 C1372.2,451.9 1373.7,445.1 1374.0,439.7 C1374.4,434.2 1373.7,429.1 1371.9,424.4 C1370.0,419.7 1367.1,415.1 1363.1,411.3 C1359.1,407.5 1354.0,404.2 1347.9,401.5 C1341.7,398.8 1332.6,396.8 1326.0,394.9 C1319.5,393.1 1313.2,392.0 1308.6,390.6 C1303.9,389.1 1300.5,387.8 1298.1,386.2 C1295.7,384.6 1294.7,382.6 1294.4,380.8 C1294.0,378.9 1294.6,376.8 1295.9,375.3 C1297.2,373.8 1299.2,372.4 1302.0,371.6 C1304.9,370.7 1308.9,370.1 1312.9,370.3 C1316.9,370.4 1321.7,371.3 1326.0,372.5 C1330.4,373.7 1335.0,375.4 1339.1,377.5 C1343.2,379.5 1348.6,383.5 1350.5,384.7 Z" fill="#0070f0"/>

<!-- skin texture -->
<g clip-path="url(#handClip)" opacity=".17"><rect x="1540" y="400" width="380" height="360" fill="url(#skin)"/></g>
<g clip-path="url(#handClip)" fill="none" stroke="#4a4a4a" stroke-width="1.1" opacity=".55" filter="url(#b2)">
  <path d="M1668,552 C1672,566 1670,584 1662,598"/><path d="M1678,556 C1683,572 1681,590 1672,604"/>
  <path d="M1688,562 C1693,578 1690,596 1683,608"/><path d="M1698,570 C1702,584 1700,600 1694,612"/>
  <path d="M1590,452 L1612,436"/><path d="M1584,466 L1616,446"/><path d="M1600,474 L1622,462"/>
  <path d="M1640,440 C1660,452 1680,470 1690,490"/><path d="M1655,432 C1680,446 1700,466 1712,488"/>
  <path d="M1760,640 C1790,660 1830,690 1870,712"/><path d="M1740,650 C1780,676 1820,706 1860,726"/>
</g>
<!-- grain -->
<g clip-path="url(#handClip)" opacity=".3"><rect x="1540" y="400" width="380" height="360" filter="url(#grain)" fill="#000"/></g>
</svg>
</body></html>
